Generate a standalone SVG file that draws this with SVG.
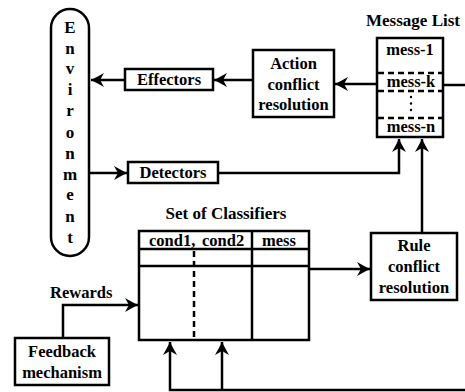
<svg xmlns="http://www.w3.org/2000/svg" width="465" height="392" viewBox="0 0 465 392">
<style>
text{font-family:"Liberation Serif","Times New Roman",serif;font-size:16.5px;font-weight:bold;fill:#000}
.m{text-anchor:middle}
.t{font-size:17px}
.box{fill:#fff;stroke:#000;stroke-width:2.5}
.ln{fill:none;stroke:#000;stroke-width:2.5}
.dash{fill:none;stroke:#000;stroke-width:2.5;stroke-dasharray:6 4}
.env{font-size:17px}
</style>
<defs>
<marker id="ah" viewBox="-14 -8 16 16" refX="0" refY="0" markerWidth="16" markerHeight="16" markerUnits="userSpaceOnUse" orient="auto">
<path d="M0,0 Q-6,-3 -13,-7 L-9,0 L-13,7 Q-6,3 0,0 Z" fill="#000"/>
</marker>
</defs>
<rect width="465" height="392" fill="#fff"/>

<g id="connectors">
<line class="ln" x1="253" y1="80" x2="214" y2="80" marker-end="url(#ah)"/>
<line class="ln" x1="125" y1="80" x2="91" y2="80" marker-end="url(#ah)"/>
<line class="ln" x1="90" y1="173" x2="127" y2="173" marker-end="url(#ah)"/>
<polyline class="ln" points="218,173 399,173 399,139" marker-end="url(#ah)"/>
<line class="ln" x1="377" y1="84" x2="335" y2="84" marker-end="url(#ah)"/>
<line class="ln" x1="443" y1="85" x2="465" y2="85"/>
<line class="ln" x1="309" y1="269" x2="370" y2="269" marker-end="url(#ah)"/>
<line class="ln" x1="422" y1="233" x2="422" y2="139" marker-end="url(#ah)"/>
<polyline class="ln" points="63,338 63,305 138,305" marker-end="url(#ah)"/>
<polyline class="ln" points="465,390 170,390 170,342" marker-end="url(#ah)"/>
<line class="ln" x1="222" y1="390" x2="222" y2="342" marker-end="url(#ah)"/>
</g>

<g id="environment">
<rect class="box" x="51" y="9" width="38" height="247" rx="19" ry="19"/>
<text class="m env" x="70" y="33">E</text>
<text class="m env" x="70" y="54">n</text>
<text class="m env" x="70" y="74">v</text>
<text class="m env" x="70" y="95">i</text>
<text class="m env" x="70" y="116">r</text>
<text class="m env" x="70" y="138">o</text>
<text class="m env" x="70" y="159">n</text>
<text class="m env" x="70" y="180">m</text>
<text class="m env" x="70" y="200">e</text>
<text class="m env" x="70" y="222">n</text>
<text class="m env" x="70" y="243">t</text>
</g>

<g id="effectors">
<rect class="box" x="125" y="69" width="88" height="21"/>
<text class="m" x="169" y="85">Effectors</text>
</g>

<g id="detectors">
<rect class="box" x="128" y="162" width="90" height="21"/>
<text class="m" x="173" y="178">Detectors</text>
</g>

<g id="action">
<rect class="box" x="253" y="50" width="81" height="67"/>
<text class="m" x="293.5" y="69">Action</text>
<text class="m" x="293.5" y="90">conflict</text>
<text class="m" x="293.5" y="110">resolution</text>
</g>

<g id="messagelist">
<text class="m t" x="413" y="26">Message List</text>
<rect class="box" x="377" y="38" width="66" height="99"/>
<line class="dash" x1="378" y1="73" x2="442" y2="73"/>
<line class="dash" x1="378" y1="91" x2="442" y2="91"/>
<line class="dash" x1="378" y1="118" x2="442" y2="118"/>
<text class="m" x="410" y="55">mess-1</text>
<text class="m" x="411" y="87">mess-k</text>
<text class="m" x="411" y="132">mess-n</text>
<circle cx="411" cy="97" r="1.2"/>
<circle cx="411" cy="103.5" r="1.2"/>
<circle cx="411" cy="110" r="1.2"/>
</g>

<g id="classifiers">
<text class="m t" x="226" y="219">Set of Classifiers</text>
<rect class="box" x="139" y="231" width="170" height="109"/>
<line class="ln" x1="139" y1="249" x2="309" y2="249"/>
<line class="ln" x1="139" y1="266" x2="309" y2="266"/>
<line class="ln" x1="252" y1="231" x2="252" y2="340"/>
<line class="dash" x1="194" y1="251" x2="194" y2="339"/>
<text x="149" y="246">cond1,</text>
<text x="202" y="246">cond2</text>
<text class="m" x="279" y="246">mess</text>
</g>

<g id="rule">
<rect class="box" x="371" y="233" width="86" height="67"/>
<text class="m" x="414" y="251">Rule</text>
<text class="m" x="414" y="272">conflict</text>
<text class="m" x="414" y="293">resolution</text>
</g>

<g id="rewards">
<text x="50" y="298">Rewards</text>
</g>

<g id="feedback">
<rect class="box" x="15" y="338" width="94" height="47"/>
<text class="m" x="62" y="357">Feedback</text>
<text class="m" x="62" y="378">mechanism</text>
</g>
</svg>
